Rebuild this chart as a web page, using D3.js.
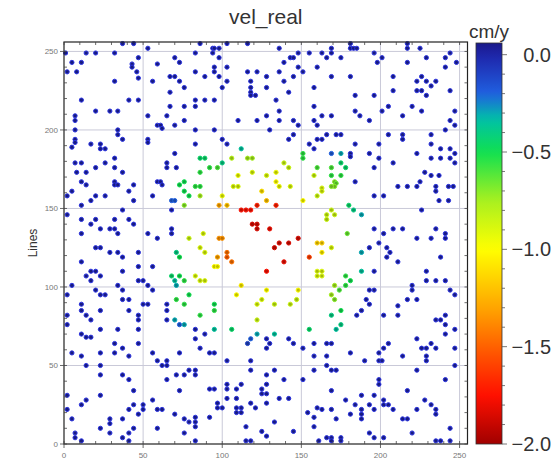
<!DOCTYPE html>
<html lang="en">
<head>
<meta charset="UTF-8" />
<title>vel_real</title>
<script src="https://d3js.org/d3.v7.min.js"></script>
<style>
  body { margin: 0; background: white; font-family: "Liberation Sans", Arial, sans-serif; }
  .grid line { stroke: #c9c9d8; stroke-width: 1; }
</style>
</head>
<body>
<svg id="chart" width="551" height="466"></svg>
<script>
// background points, velocity ~0 cm/y  [column, line]
const bgPoints = [
  [37,255],[44,255],[1,249],[14,249],[20,249],[32,249],[53,252],[47,246],[5,243],[11,243],
  [43,242],[43,240],[59,242],[70,246],[73,243],[2,237],[8,237],[46,237],[47,233],[32,231],
  [56,231],[67,234],[70,234],[73,231],[76,227],[67,224],[11,219],[41,219],[47,219],[67,215],
  [76,215],[20,212],[29,212],[34,212],[7,209],[7,206],[53,209],[65,209],[76,206],[59,203],
  [61,203],[62,201],[70,203],[7,200],[34,200],[34,197],[37,194],[7,194],[7,192],[53,194],
  [53,192],[5,189],[17,191],[23,191],[23,188],[26,188],[70,185],[7,179],[11,179],[26,179],
  [32,182],[32,176],[20,176],[65,179],[65,176],[71,176],
  [8,173],[14,173],[37,173],[11,167],[14,165],[2,158],[5,161],[20,158],[17,155],[26,158],
  [32,167],[32,165],[34,165],[44,165],[41,161],[44,155],[11,152],[37,149],[56,158],[59,167],
  [61,167],[62,165],[68,149],[2,146],[11,143],[20,143],[17,140],[32,143],[41,143],[44,140],
  [23,137],[29,137],[32,137],[34,134],[11,134],[53,134],[59,131],[68,137],[68,134],[20,125],
  [23,125],[29,122],[34,122],[37,119],[47,122],[11,116],[17,110],[20,110],[14,107],[23,107],
  [17,104],[37,110],[47,113],[56,113],[47,104],[50,104],[53,101],[56,98],[34,101],[37,98],
  [5,101],[20,98],[23,95],[26,95],[2,95],[37,92],[41,92],[50,89],[53,89],[11,89],[65,89],
  [86,255],[103,255],[116,255],[83,249],[94,252],[95,252],[98,252],[94,249],[98,246],[136,252],
  [148,249],[155,249],[163,249],[143,246],[145,246],[139,243],[148,240],[151,237],[160,240],[83,237],
  [89,234],[95,240],[95,237],[98,234],[103,240],[103,231],[100,227],[116,237],[122,237],[128,234],
  [128,227],[118,231],[118,227],[118,224],[118,222],[121,222],[136,237],[139,231],[145,234],[142,224],
  [158,227],[83,219],[83,215],[89,219],[95,219],[134,219],[158,215],[136,212],[128,209],[110,206],
  [122,206],[136,206],[145,206],[148,203],[158,206],[160,203],[163,209],[83,200],[95,200],[130,200],
  [145,197],[142,194],[100,194],[103,191],[83,191],[155,191],[158,188],[160,194],[163,194],
  [181,255],[181,252],[183,252],[185,252],[169,252],[169,249],[166,246],[175,246],[196,249],[201,246],
  [198,243],[217,255],[217,252],[225,252],[217,243],[229,246],[244,249],[241,246],[248,243],[241,240],
  [169,234],[181,234],[208,234],[208,225],[226,234],[223,231],[229,231],[232,228],[235,231],[223,225],
  [226,225],[229,222],[244,225],[184,222],[196,222],[205,215],[201,212],[220,215],[226,212],[184,212],
  [187,209],[193,206],[169,209],[214,209],[247,212],[244,206],[247,203],[241,200],[166,197],[172,197],
  [175,197],[205,197],[214,197],[214,194],[232,197],[184,191],[199,191],[232,191],[238,188],[244,188],
  [181,185],[181,183],[193,185],[199,182],[223,185],[232,182],[238,182],[247,185],[244,182],[208,179],
  [196,176],[247,179],
  [184,167],[196,158],[202,158],[211,164],[217,164],[223,164],[225,167],[228,173],[232,171],[235,164],
  [235,161],[237,171],[243,164],[246,164],[237,155],[243,155],[226,149],[196,137],[202,134],[208,137],
  [214,137],[235,137],[241,134],[241,131],[223,131],[232,131],[199,128],[193,125],[204,125],[206,122],
  [204,119],[211,116],[238,119],[196,110],[229,110],[229,104],[235,104],[241,104],[193,98],[196,98],
  [191,92],[193,89],[220,101],[220,98],[217,92],[223,92],[244,98],[247,95],
  [11,85],[2,82],[2,76],[14,82],[17,79],[23,85],[41,85],[47,82],[47,79],[47,73],
  [65,85],[65,79],[23,73],[34,73],[11,70],[14,68],[17,68],[32,64],[37,61],[41,56],
  [47,64],[5,58],[11,56],[23,58],[32,58],[56,58],[73,58],[14,50],[23,50],[23,44],
  [59,53],[62,50],[65,53],[65,50],[37,44],[41,41],[71,44],[76,44],[65,41],[44,34],
  [73,34],[2,31],[23,31],[14,28],[11,25],[56,28],[44,25],[50,25],[50,22],[41,22],
  [47,19],[59,22],[62,22],[2,22],[70,19],[5,16],[29,16],[29,13],[37,16],[76,16],
  [23,10],[29,7],[44,10],[41,7],[37,4],[59,10],[7,7],[7,4],[11,2],[76,7],[41,2],
  [89,70],[83,73],[83,67],[128,67],[130,64],[128,61],[142,67],[145,64],[151,61],[158,64],
  [158,56],[86,61],[92,58],[95,58],[103,53],[118,53],[118,47],[79,47],[83,47],[83,44],
  [133,47],[128,44],[139,41],[151,41],[158,47],[103,38],[103,35],[112,38],[109,35],[92,35],
  [95,35],[128,38],[125,35],[125,32],[128,32],[103,29],[109,29],[136,29],[142,29],[97,26],
  [97,23],[100,23],[118,26],[121,23],[128,26],[109,23],[112,23],[109,20],[112,20],[154,20],
  [160,23],[158,17],[83,17],[83,14],[79,14],[83,11],[92,17],[115,11],[133,14],[158,11],
  [125,8],[128,5],[145,8],[115,2],[118,2],[83,2],
  [185,82],[188,85],[202,82],[211,88],[211,82],[235,79],[238,79],[241,82],[241,76],[241,70],
  [247,73],[166,64],[169,64],[181,58],[199,58],[202,61],[205,64],[223,67],[226,61],[229,61],
  [232,64],[235,61],[166,56],[214,56],[229,56],[229,53],[190,53],[199,53],[201,53],[247,61],
  [247,50],[166,50],[169,47],[172,47],[223,47],[199,41],[199,38],[241,41],[169,34],[217,34],
  [188,31],[196,31],[178,28],[184,25],[193,25],[196,22],[202,28],[202,25],[205,25],[208,22],
  [228,28],[232,25],[235,22],[235,19],[163,22],[169,22],[181,19],[188,22],[188,19],[188,16],
  [172,16],[214,16],[217,16],[223,22],[244,10],[220,7],[193,7],[196,4],[202,4],[166,4],
  [169,4],[175,4],[169,2],[175,2],[161,2],[235,2],[238,2],[244,2]
];

// points inside the deforming zone  [column, line, velocity cm/y]
const defPoints = [
  [68,155,-0.2],[70,155,-0.2],[73,165,-0.5],[76,167,-0.5],[76,161,-0.5],[76,152,-0.7],
  [71,122,-0.4],[73,119,-0.5],[68,107,-0.45],[70,104,-0.35],[73,107,-0.5],[76,104,-0.55],
  [71,101,-0.3],[71,92,-0.55],[76,89,-0.55],
  [112,188,-0.35],[86,182,-0.45],[89,182,-0.45],[106,182,-0.8],[116,182,-0.75],[119,182,-0.75],
  [100,179,-0.4],[151,185,-0.55],[151,182,-0.55],[92,176,-0.55],[97,176,-0.6],[139,179,-0.85],
  [142,176,-0.85],[160,176,-0.6],
  [169,185,-0.2],[175,185,-0.3],[169,176,-0.6],[175,179,-0.45],[178,176,-0.45],
  [86,173,-0.55],[110,171,-0.95],[119,173,-0.9],[128,171,-0.9],[134,173,-0.95],[134,167,-1.0],
  [136,164,-0.95],[143,164,-0.9],[83,164,-0.55],[86,164,-0.55],[107,164,-0.9],[110,164,-0.9],
  [79,158,-0.5],[86,158,-0.75],[100,158,-0.95],[125,161,-1.1],[128,155,-1.2],[151,155,-1.0],
  [160,158,-0.85],[98,152,-1.3],[103,152,-1.2],[112,149,-1.75],[115,149,-1.75],[118,149,-1.75],
  [122,152,-1.7],[134,152,-1.7],[119,140,-1.85],[122,140,-1.85],[122,137,-1.85],[130,137,-1.8],
  [88,134,-0.9],[79,131,-0.85],[98,131,-1.35],[100,131,-1.35],[86,125,-0.9],[89,122,-0.9],
  [103,122,-1.45],[103,119,-1.5],[106,116,-1.45],[97,119,-1.3],[95,113,-1.0],[97,113,-1.0],
  [133,125,-1.85],[136,128,-1.85],[142,128,-1.85],[148,131,-1.85],[155,119,-1.6],[139,116,-1.8],
  [128,110,-1.75],[160,128,-1.15],[83,107,-0.9],[86,104,-0.9],[89,104,-0.9],[79,95,-0.5],
  [112,101,-1.05],[109,95,-1.0],[128,98,-1.0],[125,92,-0.9],[122,89,-0.9],[133,89,-0.85],
  [95,89,-0.5],[148,98,-1.0],[147,92,-0.85],[143,89,-0.85],[160,110,-0.9],[160,107,-0.9],
  [158,171,-0.85],
  [163,163,-0.9],[163,161,-0.9],[169,171,-0.55],[175,171,-0.55],[171,167,-0.7],[172,166,-0.65],
  [171,164,-0.7],[169,164,-0.7],[180,152,-0.45],[183,149,-0.4],[188,146,-0.3],[169,149,-0.85],
  [166,146,-0.85],[171,146,-0.85],[166,143,-0.85],[179,134,-0.65],[163,128,-1.15],[163,122,-1.05],
  [169,125,-0.9],[188,122,-0.3],[188,110,-0.35],[163,110,-0.9],[163,107,-0.9],[178,107,-0.55],
  [181,104,-0.5],[178,101,-0.55],[171,101,-0.75],[174,98,-0.6],[169,95,-0.75],[171,92,-0.7],
  [70,79,-0.3],[73,76,-0.2],[76,76,-0.3],
  [95,85,-0.55],[86,82,-0.55],[122,79,-0.85],[95,73,-0.35],[106,73,-0.45],[155,73,-0.45],
  [122,70,-0.3],[118,67,-0.2],[116,64,-0.1],[133,70,-0.35],
  [169,82,-0.4],[175,85,-0.5],[172,73,-0.35],[175,76,-0.4]
];

const axisTicks = [0, 50, 100, 150, 200, 250];
const cbTicks = [0, -0.5, -1.0, -1.5, -2.0];
const cpStops = [0.06, 0, -0.2, -0.33, -0.5, -0.75, -1.0, -1.3, -1.55, -1.75, -2.0];
const cpColors = ["#1a1a88", "#1e24aa", "#2060e0", "#00c0a8", "#10e050", "#a8f020",
                  "#ffff00", "#ffa500", "#ff5000", "#ff1000", "#a00000"];

const svg = d3.select("#chart");
const x = d3.scaleLinear().domain([0, 255]).range([64, 467.5]);
const y = d3.scaleLinear().domain([0, 256]).range([444, 42]);
const color = d3.scaleLinear().domain(cpStops).range(cpColors).clamp(true);

// grid
const grid = svg.append("g").attr("class", "grid");
grid.selectAll(".gx").data(axisTicks.slice(1)).join("line")
  .attr("x1", d => x(d)).attr("x2", d => x(d)).attr("y1", y(256)).attr("y2", y(0));
grid.selectAll(".gy").data(axisTicks.slice(1)).join("line").attr("class", "gy")
  .attr("y1", d => y(d)).attr("y2", d => y(d)).attr("x1", x(0)).attr("x2", x(255));

// points: darker core, coloured rim
const allPts = bgPoints.map(p => [p[0], p[1], 0]).concat(defPoints);
svg.append("g").selectAll("circle").data(allPts).join("circle")
  .attr("cx", d => x(d[0])).attr("cy", d => y(d[1])).attr("r", 2.1)
  .attr("fill", d => d3.color(color(d[2])).darker(0.8))
  .attr("stroke", d => d[2] === 0 ? "#2c34e0" : color(d[2]))
  .attr("stroke-width", 1);

// frame and ticks
svg.append("rect").attr("x", x(0)).attr("y", y(256))
  .attr("width", x(255) - x(0)).attr("height", y(0) - y(256))
  .attr("fill", "none").attr("stroke", "#222").attr("stroke-width", 1.2);

const minor = d3.range(0, 256, 10);
const tk = svg.append("g").attr("stroke", "#444").attr("stroke-width", 0.8);
minor.forEach(v => {
  tk.append("line").attr("x1", x(v)).attr("x2", x(v)).attr("y1", y(0)).attr("y2", y(0) - 3);
  tk.append("line").attr("x1", x(v)).attr("x2", x(v)).attr("y1", y(256)).attr("y2", y(256) + 3);
  tk.append("line").attr("y1", y(v)).attr("y2", y(v)).attr("x1", x(0)).attr("x2", x(0) + 3);
  tk.append("line").attr("y1", y(v)).attr("y2", y(v)).attr("x1", x(255)).attr("x2", x(255) - 3);
});
axisTicks.forEach(v => {
  tk.append("line").attr("x1", x(v)).attr("x2", x(v)).attr("y1", y(0)).attr("y2", y(0) + 4);
  tk.append("line").attr("y1", y(v)).attr("y2", y(v)).attr("x1", x(0)).attr("x2", x(0) - 4);
});

svg.append("g").selectAll("text").data(axisTicks).join("text")
  .attr("x", d => x(d)).attr("y", y(0) + 14)
  .attr("text-anchor", "middle").attr("font-size", 8).attr("fill", "#777")
  .text(d => d);
svg.append("g").selectAll("text").data(axisTicks).join("text")
  .attr("x", x(0) - 6).attr("y", d => y(d) + 3)
  .attr("text-anchor", "end").attr("font-size", 8).attr("fill", "#777")
  .text(d => d);

svg.append("text").attr("transform", `translate(37,${(y(0) + y(256)) / 2}) rotate(-90)`)
  .attr("text-anchor", "middle").attr("font-size", 12).attr("fill", "#333").text("Lines");

svg.append("text").attr("x", (x(0) + x(255)) / 2).attr("y", 24)
  .attr("text-anchor", "middle").attr("font-size", 21).attr("fill", "#333").text("vel_real");

// colorbar
const cb = { x: 476, w: 26 };
const cy = d3.scaleLinear().domain([0.06, -2.0]).range([43, 444]);
const grad = svg.append("defs").append("linearGradient").attr("id", "cbg")
  .attr("x1", 0).attr("x2", 0).attr("y1", 0).attr("y2", 1);
d3.range(0, 1.0001, 0.02).forEach(t => {
  grad.append("stop").attr("offset", t).attr("stop-color", color(cy.invert(43 + t * 401)));
});
svg.append("rect").attr("x", cb.x).attr("y", cy(0.06)).attr("width", cb.w)
  .attr("height", cy(-2.0) - cy(0.06)).attr("fill", "url(#cbg)")
  .attr("stroke", "#333").attr("stroke-width", 0.8);

const cbt = svg.append("g").attr("stroke", "#555").attr("stroke-width", 0.8);
d3.range(0, 21).forEach(i => {
  const v = -i / 10;
  const len = i % 5 === 0 ? 5 : 3;
  cbt.append("line").attr("x1", cb.x + cb.w).attr("x2", cb.x + cb.w + len)
    .attr("y1", cy(v)).attr("y2", cy(v));
});
svg.append("g").selectAll("text").data(cbTicks).join("text")
  .attr("x", 551).attr("y", d => cy(d) + 7)
  .attr("text-anchor", "end").attr("font-size", 20).attr("fill", "#333")
  .text(d => d3.format(".1f")(d));
svg.append("text").attr("x", cb.x + cb.w / 2).attr("y", 38)
  .attr("text-anchor", "middle").attr("font-size", 19).attr("fill", "#333").text("cm/y");
</script>
</body>
</html>
